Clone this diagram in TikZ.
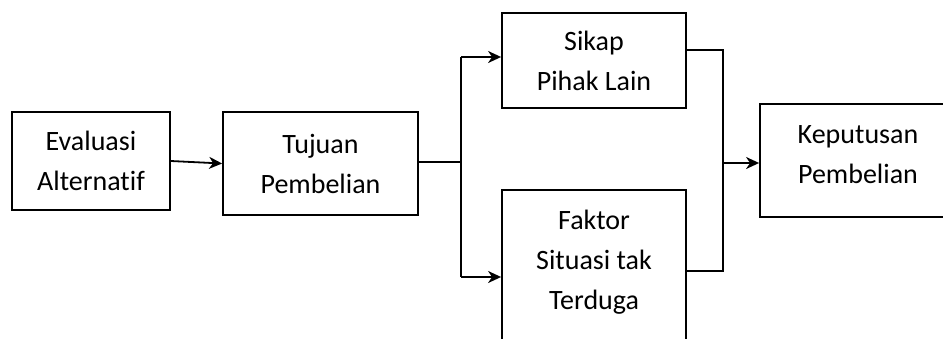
\documentclass[tikz,border=0pt]{standalone}
\usepackage{fontspec}
\setmainfont[Ligatures={NoCommon}]{Carlito}
\usetikzlibrary{arrows.meta}
\begin{document}
\begin{tikzpicture}[x=1pt,y=-1pt,
  line width=1.8pt,
  boxnode/.style={draw, rectangle, inner sep=0pt, align=center,
    font=\fontsize{28}{40}\selectfont},
  txt/.style={inner sep=0pt, align=center, font=\fontsize{28}{40}\selectfont},
  arr/.style={-{Stealth[length=13pt,width=12pt,inset=4pt]}}]
\useasboundingbox (0,0) rectangle (943,338);
\clip (0,0) rectangle (943,338);
\node[boxnode, minimum width=158pt, minimum height=98pt] (A) at (91,161) {Evaluasi\\Alternatif};
\node[boxnode, minimum width=195pt, minimum height=103pt] (B) at (320.5,163.5) {Tujuan\\Pembelian};
\node[boxnode, minimum width=184pt, minimum height=95pt] (C) at (594,60.5) {Sikap\\Pihak Lain};
\node[draw, rectangle, minimum width=184pt, minimum height=210pt] (D) at (594,295) {};
\node[txt] (Dt) at (594,262) {Faktor\\Situasi tak\\Terduga};
\node[draw, rectangle, minimum width=196pt, minimum height=113pt] (E) at (858,160.5) {};
\node[txt] (Et) at (858,155) {Keputusan\\Pembelian};
\coordinate (j1) at (461,162);
\coordinate (j1t) at (461,57);
\coordinate (j1b) at (461,277);
\coordinate (j2t) at (723,50);
\coordinate (j2b) at (723,271);
\coordinate (j2m) at (723,163);
\draw[arr] (A.east) -- (B.west);
\draw (B.east |- j1) -- (j1);
\draw (j1t) -- (j1b);
\draw[arr] (j1t) -- (C.west |- j1t);
\draw[arr] (j1b) -- (D.west |- j1b);
\draw (C.east |- j2t) -- (j2t) -- (j2b) -- (D.east |- j2b);
\draw[arr] (j2m) -- (E.west |- j2m);
\end{tikzpicture}
\end{document}
